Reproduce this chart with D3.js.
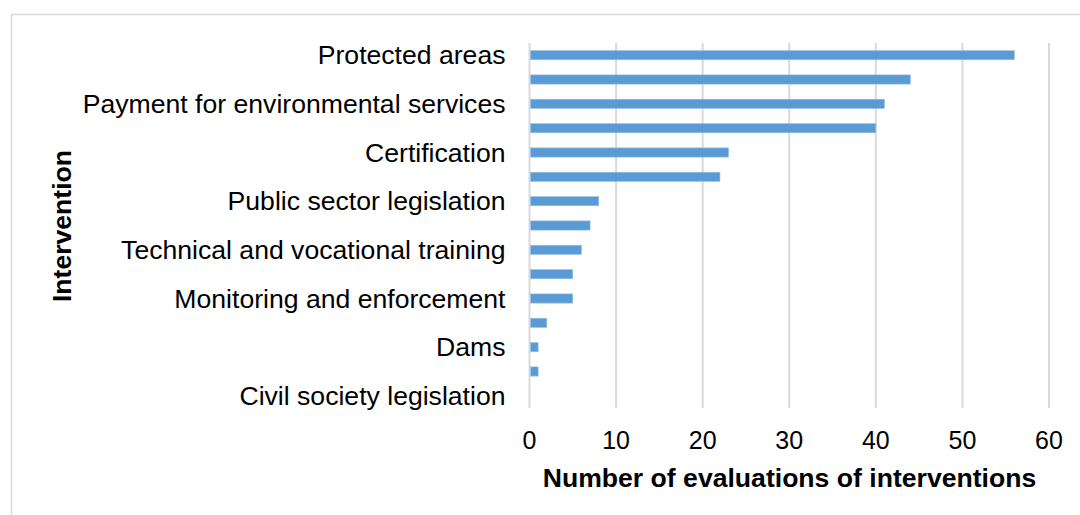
<!DOCTYPE html>
<html>
<head>
<meta charset="utf-8">
<script src="https://cdn.jsdelivr.net/npm/d3@7"></script>
<style>
body { margin: 0; background: #fff; }
svg { display: block; }
text { font-family: "Liberation Sans", Arial, sans-serif; }
</style>
</head>
<body>
<svg id="chart" width="1080" height="515"></svg>
<script>
// Categories (Excel shows every other label; unlabeled rows left blank)
const categories = [
  "Protected areas", "",
  "Payment for environmental services", "",
  "Certification", "",
  "Public sector legislation", "",
  "Technical and vocational training", "",
  "Monitoring and enforcement", "",
  "Dams", "",
  "Civil society legislation"
];
const values = [56, 44, 41, 40, 23, 22, 8, 7, 6, 5, 5, 2, 1, 1, 0];
const xTicks = [0, 10, 20, 30, 40, 50, 60];
const xTitle = "Number of evaluations of interventions";
const yTitle = "Intervention";

const svg = d3.select("#chart");
const W = 1080, H = 515;

// chart border
svg.append("rect").attr("x", 11.5).attr("y", 14.5).attr("width", W + 10).attr("height", H + 10)
  .attr("fill", "none").attr("stroke", "#D9D9D9").attr("stroke-width", 1.5);

const x0 = 529.5, x1 = 1049, y0 = 43, y1 = 408;
const x = d3.scaleLinear().domain([0, 60]).range([x0, x1]);
const y = d3.scaleBand().domain(d3.range(categories.length)).range([y0, y1]).paddingInner(0.62).paddingOuter(0.31);

// gridlines
svg.append("g").selectAll("line").data(xTicks).join("line")
  .attr("x1", d => x(d)).attr("x2", d => x(d))
  .attr("y1", y0).attr("y2", y1)
  .attr("stroke", "#D9D9D9").attr("stroke-width", 2);

// bars
svg.append("g").selectAll("rect").data(values).join("rect")
  .attr("x", x(0) + 1)
  .attr("y", (d, i) => y(i))
  .attr("width", d => Math.max(0, x(d) - x(0) - 1))
  .attr("height", y.bandwidth())
  .attr("fill", "#5B9BD5")
  .attr("stroke", "#9DC3E6").attr("stroke-width", d => d > 0 ? 0.6 : 0);

// category labels
const band = (y1 - y0) / categories.length;
svg.append("g").selectAll("text").data(categories).join("text")
  .attr("x", 505.5)
  .attr("y", (d, i) => y0 + band * (i + 0.5))
  .attr("dy", "0.35em")
  .attr("text-anchor", "end")
  .attr("font-size", 26.6)
  .attr("fill", "#000")
  .text(d => d);

// x tick labels
svg.append("g").selectAll("text").data(xTicks).join("text")
  .attr("x", d => x(d))
  .attr("y", 449)
  .attr("text-anchor", "middle")
  .attr("font-size", 25)
  .attr("fill", "#000")
  .text(d => d);

// axis titles
svg.append("text").attr("x", 789.5).attr("y", 486.5)
  .attr("text-anchor", "middle").attr("font-size", 26.6).attr("font-weight", "bold")
  .text(xTitle);

svg.append("text").attr("transform", `translate(70.5, 226) rotate(-90)`)
  .attr("text-anchor", "middle").attr("font-size", 26.6).attr("font-weight", "bold")
  .text(yTitle);
</script>
</body>
</html>
